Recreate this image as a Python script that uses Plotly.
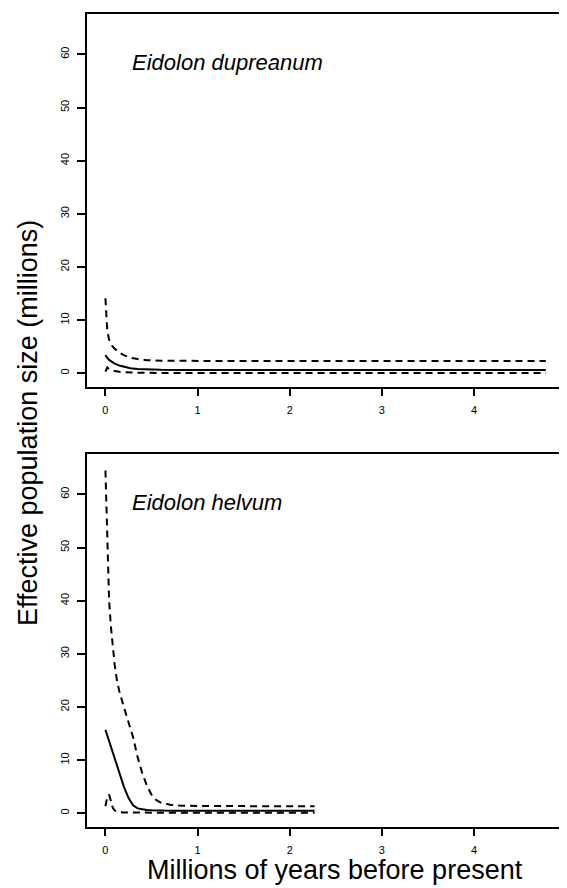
import plotly.graph_objects as go

# ---------------- data ----------------
# Eidolon dupreanum (top panel)
dup_time = [0, 0.01, 0.02, 0.04, 0.07, 0.1, 0.15, 0.2, 0.27, 0.35, 0.45, 0.6, 0.8, 1.2, 2.0, 3.0, 4.0, 4.78]
dup_median = [3.4, 3.1, 2.9, 2.5, 2.1, 1.8, 1.45, 1.2, 0.95, 0.8, 0.7, 0.63, 0.6, 0.6, 0.6, 0.6, 0.6, 0.6]
dup_upper = [14.1, 10.5, 8.0, 6.3, 5.2, 4.6, 3.9, 3.4, 2.9, 2.65, 2.45, 2.35, 2.3, 2.3, 2.3, 2.3, 2.3, 2.3]
dup_lower = [0.3, 0.9, 1.1, 0.8, 0.55, 0.4, 0.25, 0.18, 0.12, 0.08, 0.06, 0.05, 0.04, 0.03, 0.03, 0.03, 0.03, 0.03]

# Eidolon helvum (bottom panel)
hel_time = [0, 0.01, 0.02, 0.04, 0.06, 0.08, 0.1, 0.125, 0.15, 0.2, 0.25, 0.3, 0.35, 0.4,
            0.45, 0.5, 0.55, 0.6, 0.7, 0.8, 1.0, 1.5, 2.0, 2.27]
hel_median = [15.7, 15.15, 14.6, 13.5, 12.4, 11.3, 10.2, 8.9, 7.6, 5.0, 2.9, 1.5, 0.9, 0.7,
              0.6, 0.55, 0.5, 0.5, 0.48, 0.47, 0.46, 0.45, 0.45, 0.45]
hel_upper = [64.5, 57.0, 49.0, 40.0, 35.0, 31.0, 28.0, 25.0, 23.0, 20.0, 17.0, 14.3, 10.5, 7.5,
             5.2, 3.5, 2.5, 2.0, 1.6, 1.45, 1.35, 1.3, 1.3, 1.3]
hel_lower = [1.3, 2.2, 3.0, 3.5, 2.3, 1.0, 0.5, 0.3, 0.2, 0.15, 0.12, 0.1, 0.1, 0.1,
             0.1, 0.1, 0.1, 0.1, 0.1, 0.1, 0.1, 0.1, 0.1, 0.1]

species = ["Eidolon dupreanum", "Eidolon helvum"]
x_ticks = [0, 1, 2, 3, 4, 5]
y_ticks = [0, 10, 20, 30, 40, 50, 60]
x_title = "Millions of years before present"
y_title = "Effective population size (millions)"

# ---------------- figure ----------------
FONT = "Liberation Sans, Arial, Helvetica, sans-serif"
OFF = 8                      # page body margin of the html
W, H = 567 - OFF, 888 - OFF
ML, MR, MT, MB = 87 - OFF, 0, 14 - OFF, 61
PH = H - MT - MB
PW = W - ML - MR
TICKLEN, STANDOFF = 7, 5

def py(pix):  # reference pixel row -> paper y
    return (H - MB - (pix - OFF)) / PH

def px(pix):  # reference pixel column -> paper x
    return (pix - OFF - ML) / PW

fig = go.Figure()
solid = dict(color="black", width=2)
dashed = dict(color="black", width=2, dash="7px,5px")

for t, med, up, lo, xa, ya in [
    (dup_time, dup_median, dup_upper, dup_lower, "x", "y"),
    (hel_time, hel_median, hel_upper, hel_lower, "x2", "y2"),
]:
    fig.add_trace(go.Scatter(x=t, y=up, mode="lines", line=dashed, xaxis=xa, yaxis=ya))
    fig.add_trace(go.Scatter(x=t, y=lo, mode="lines", line=dashed, xaxis=xa, yaxis=ya))
    fig.add_trace(go.Scatter(x=t, y=med, mode="lines", line=solid, xaxis=xa, yaxis=ya))

xcommon = dict(range=[-0.2, 5.01], tickvals=x_ticks, ticktext=[str(v) for v in x_ticks[:-1]] + [""],
               ticks="outside", ticklen=TICKLEN,
               tickwidth=1.5, tickcolor="black", showline=True, linewidth=2, linecolor="black",
               mirror=True, showgrid=False, zeroline=False, ticklabelstandoff=STANDOFF,
               tickfont=dict(family=FONT, size=11, color="black"))
ycommon = dict(range=[-2.6, 67.6], tickvals=y_ticks, ticks="outside", ticklen=8, tickwidth=1.5,
               tickcolor="black", showline=True, linewidth=2, linecolor="black",
               showgrid=False, zeroline=False, tickangle=-90, ticklabelstandoff=4,
               tickfont=dict(family=FONT, size=11, color="black"))

top_dom = [py(387), 1.0]
bot_dom = [0.0, py(454)]

fig.update_layout(
    width=W, height=H,
    margin=dict(l=ML, r=MR, t=MT, b=MB),
    paper_bgcolor="white", plot_bgcolor="white",
    showlegend=False,
    xaxis=dict(xcommon, anchor="y"),
    yaxis=dict(ycommon, domain=top_dom, anchor="x"),
    xaxis2=dict(xcommon, anchor="y2"),
    yaxis2=dict(ycommon, domain=bot_dom, anchor="x2"),
)

anns = [
    dict(text="<i>" + species[0] + "</i>", x=px(130), y=py(63), xref="paper", yref="paper",
         xanchor="left", yanchor="middle", showarrow=False,
         font=dict(family=FONT, size=22, color="black")),
    dict(text="<i>" + species[1] + "</i>", x=px(130), y=py(502), xref="paper", yref="paper",
         xanchor="left", yanchor="middle", showarrow=False,
         font=dict(family=FONT, size=22, color="black")),
    dict(text=x_title, x=px(335), y=py(870), xref="paper", yref="paper",
         xanchor="center", yanchor="middle", showarrow=False,
         font=dict(family=FONT, size=27, color="black")),
    dict(text=y_title, x=px(28), y=py(423), xref="paper", yref="paper",
         xanchor="center", yanchor="middle", showarrow=False, textangle=-90,
         font=dict(family=FONT, size=27, color="black")),
]
# last x tick label (5) sits on the cropped right edge: keep it inside the page
for dom in [top_dom, bot_dom]:
    anns.append(dict(text=str(x_ticks[-1]), x=1.0, xref="paper", y=dom[0], yref="paper",
                     xanchor="right", yanchor="top", yshift=-(TICKLEN + STANDOFF - 2),
                     showarrow=False, font=dict(family=FONT, size=11, color="black")))
fig.update_layout(annotations=anns)

fig.write_html("out.html")
